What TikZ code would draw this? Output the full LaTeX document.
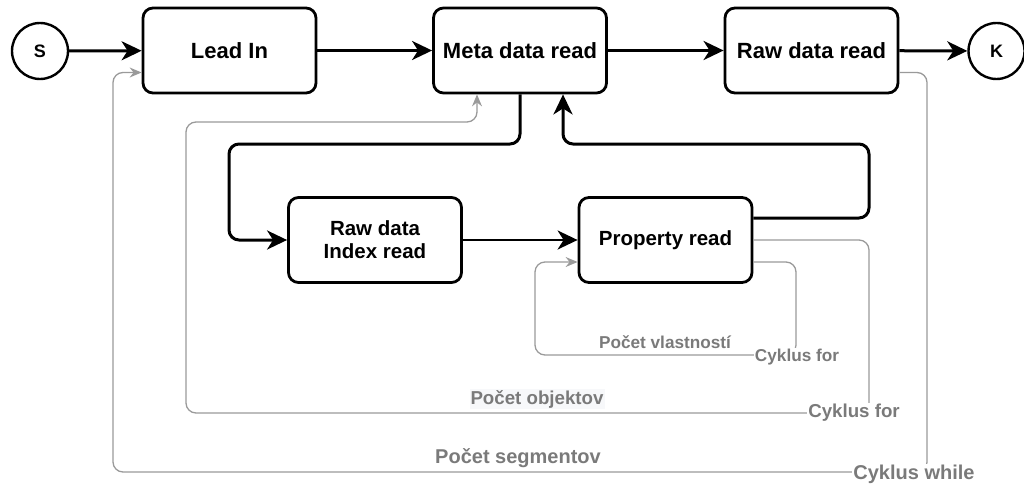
\documentclass[tikz,border=0pt]{standalone}
\usepackage{fontspec}
\setmainfont{Liberation Sans}
\usetikzlibrary{arrows.meta}

\definecolor{loopline}{HTML}{9A9A9A}
\definecolor{looptext}{HTML}{7A7A7A}
\definecolor{labelbg}{HTML}{F7F8FA}

\begin{document}
\begin{tikzpicture}[x=1pt,y=-1pt,
  stage/.style={draw,line width=2.8pt,rounded corners=10pt,minimum width=173pt,minimum height=85pt,align=center,font=\bfseries\fontsize{20.5}{23}\selectfont},
  bigstage/.style={stage,font=\bfseries\fontsize{22}{25}\selectfont},
  term/.style={draw,circle,line width=2.4pt,minimum size=56pt,inner sep=0pt,font=\bfseries\fontsize{18}{20}\selectfont},
  flow/.style={line width=3pt,rounded corners=10pt,-{Stealth[length=20pt,width=19pt,inset=6pt]}},
  loop/.style={draw=loopline,line width=1.3pt,rounded corners=10pt,-{Stealth[length=12pt,width=10pt,inset=4pt]}},
  cyc/.style={fill=white,inner sep=1pt,text=looptext,font=\bfseries\fontsize{#1}{#1}\selectfont},
  cyc/.default=18
]
\useasboundingbox (0,0) rectangle (1024,484);
\node[term] (s) at (40,51) {S};
\node[bigstage] (lead) at (229.5,50.5) {Lead In};
\node[bigstage] (meta) at (520,50.5) {Meta data read};
\node[bigstage] (raw) at (811.5,50.5) {Raw data read};
\node[term] (k) at (996.5,51) {K};
\node[stage] (index) at (375,240) {Raw data\\Index read};
\node[stage] (prop) at (665.5,240) {Property read};
% main flow
\draw[flow] (s) -- (lead);
\draw[flow] (lead) -- (meta);
\draw[flow] (meta) -- (raw);
\draw[flow] (raw) -- (k);
\draw[flow] (meta.south) |- (229,144) |- (index.west);
\draw[flow,line width=2.4pt] (index) -- (prop);
\draw[flow] ([yshift=22pt]prop.east) -| (869,144) -| ([xshift=43pt]meta.south);
% loops
\draw[loop] ([yshift=-22pt]raw.east) -| (927,472) -| (113,72.5) -- ([yshift=-22pt]lead.west);
\draw[loop] (prop.east) -| (869,413) -| (186,122) -| ([xshift=-43pt]meta.south);
\draw[loop] ([yshift=-22pt]prop.east) -| (796,355) -| (535,262) -- ([yshift=-22pt]prop.west);
\node[cyc=20] (while) at (914,474) {Cyklus while};
\node[cyc=20,fill=none] (segs) at (518,458) {Počet segmentov};
\node[cyc=18.7] (forobj) at (854,413) {Cyklus for};
\node[cyc=18.7,fill=labelbg] (objs) at (537,399) {Počet objektov};
\node[cyc=17.2] (forprop) at (797,357) {Cyklus for};
\node[cyc=17.2,fill=none] (props) at (665,342) {Počet vlastností};
\end{tikzpicture}
\end{document}
